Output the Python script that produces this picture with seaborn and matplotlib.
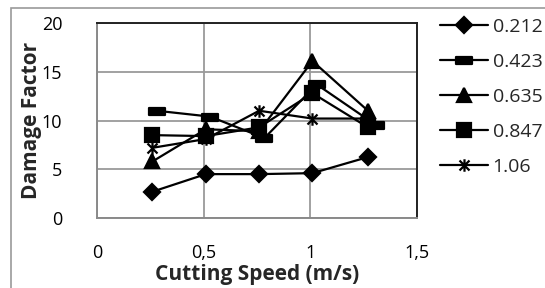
import matplotlib
matplotlib.use("Agg")
import matplotlib.pyplot as plt
from matplotlib.path import Path
from matplotlib.patches import Rectangle
import seaborn as sns
import pandas as pd

# ---- data ----
series_names = ["0.212", "0.423", "0.635", "0.847", "1.06"]
speed_main = [0.26, 0.51, 0.76, 1.01, 1.27]
speed_423 = [0.28, 0.53, 0.785, 1.03, 1.31]
df_212 = [2.7, 4.5, 4.5, 4.6, 6.25]
df_423 = [11.0, 10.4, 8.2, 13.7, 9.5]
df_635 = [5.8, 9.1, 8.9, 16.1, 11.0]
df_847 = [8.5, 8.4, 9.3, 12.8, 9.3]
df_106 = [7.2, 8.1, 11.0, 10.2, 10.2]
x_ticks = [0, 0.5, 1, 1.5]
x_tick_labels = ["0", "0,5", "1", "1,5"]
y_ticks = [0, 5, 10, 15, 20]

sns.set_theme(style="white")
plt.rcParams["font.family"] = ["Open Sans", "DejaVu Sans"]

fig = plt.figure(figsize=(5.45, 2.88), dpi=100)
ax = fig.add_axes([97/545, 1-218/288, (417-97)/545, (218-23)/288])

dash_marker = Path([(-1, -0.42), (1, -0.42), (1, 0.42), (-1, 0.42), (-1, -0.42)],
                   [Path.MOVETO, Path.LINETO, Path.LINETO, Path.LINETO, Path.CLOSEPOLY])
star_marker = Path([(-1, -1), (1, 1), (-1, 1), (1, -1), (0, -1.25), (0, 1.25)],
                   [Path.MOVETO, Path.LINETO, Path.MOVETO, Path.LINETO, Path.MOVETO, Path.LINETO])

specs = [
    (speed_main, df_212, "D", 8.5, series_names[0]),
    (speed_423, df_423, dash_marker, 12, series_names[1]),
    (speed_main, df_635, "^", 10, series_names[2]),
    (speed_main, df_847, "s", 10, series_names[3]),
    (speed_main, df_106, star_marker, 9, series_names[4]),
]

for xs, ys, mk, ms, name in specs:
    d = pd.DataFrame({"x": xs, "y": ys})
    sns.lineplot(data=d, x="x", y="y", ax=ax, color="black", marker=mk,
                 markersize=ms, markeredgecolor="black", markerfacecolor="black",
                 markeredgewidth=1.6, linewidth=1.6, label=name, sort=False)

ax.set_xlim(0, 1.5)
ax.set_ylim(0, 20)
ax.set_xticks(x_ticks)
ax.set_xticklabels(x_tick_labels)
ax.set_yticks(y_ticks)
ax.grid(True, color="#9a9a9a", linewidth=1.3)
ax.set_axisbelow(True)
ax.tick_params(axis="both", length=0, labelsize=13, colors="black")
ax.tick_params(axis="y", pad=25)
ax.tick_params(axis="x", pad=19)
for s in ["top", "right"]:
    ax.spines[s].set_color("#222222")
    ax.spines[s].set_linewidth(1.4)
for s in ["left", "bottom"]:
    ax.spines[s].set_color("#8a8a8a")
    ax.spines[s].set_linewidth(1.4)

ax.set_xlabel("Cutting Speed (m/s)", fontsize=15, fontweight="bold", labelpad=1)
ax.set_ylabel("Damage Factor", fontsize=15, fontweight="bold", labelpad=0)

ax.legend(loc="upper left", bbox_to_anchor=(440/545, 1-18/288),
          bbox_transform=fig.transFigure, frameon=False, fontsize=14,
          handlelength=2.45, handletextpad=0.25, labelspacing=0.87,
          borderpad=0, borderaxespad=0)

# outer chart border
fig.patches.append(Rectangle((11/545, -0.1), 1.2, 1-8/288+0.1, transform=fig.transFigure,
                             fill=False, edgecolor="#9a9a9a", linewidth=1.2))

fig.savefig("out.png", dpi=100)
